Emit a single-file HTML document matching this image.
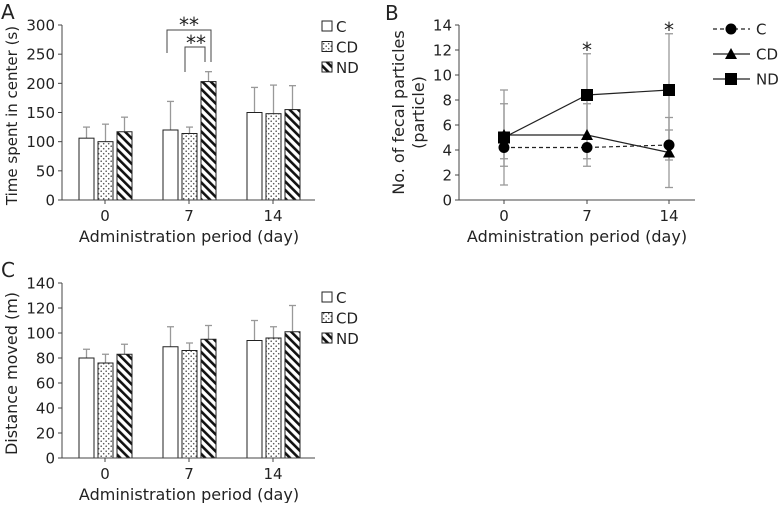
<!DOCTYPE html>
<html><head><meta charset="utf-8">
<style>
html,body{margin:0;padding:0;background:#fff;}
svg text{font-family:"DejaVu Sans","Liberation Sans",sans-serif;fill:#222;}
</style></head>
<body>
<svg id="fig" width="778" height="503" viewBox="0 0 778 503" xmlns="http://www.w3.org/2000/svg">
<defs>
<pattern id="dots" width="5" height="5" patternUnits="userSpaceOnUse"><rect width="5" height="5" fill="#fff"/><circle cx="1.2" cy="1.2" r="0.8" fill="#555"/><circle cx="3.7" cy="3.7" r="0.8" fill="#555"/></pattern>
<pattern id="hatch" width="6" height="6" patternUnits="userSpaceOnUse" patternTransform="rotate(-45)"><rect width="6" height="6" fill="#fff"/><rect x="0" y="0" width="2.6" height="6" fill="#111"/></pattern>
</defs>
<g id="pa"></g>
<g id="pb"></g>
<g id="pc"></g>
</svg>
<script>
const days = ["0","7","14"];
const groups = ["C","CD","ND"];
// Panel A: time in center (s)
const aC = [106,120,150];
const aCD = [100,114,148];
const aND = [117,203,155];
const aCerr = [19,49,43];
const aCDerr = [30,11,49];
const aNDerr = [25,17,41];
const aTicks = [0,50,100,150,200,250,300];
// Panel C: distance moved (m)
const cC = [80,89,94];
const cCD = [76,86,96];
const cND = [83,95,101];
const cCerr = [7,16,16];
const cCDerr = [7,6,9];
const cNDerr = [8,11,21];
const cTicks = [0,20,40,60,80,100,120,140];
// Panel B: fecal particles
const bC = [4.2,4.2,4.4];
const bCD = [5.2,5.2,3.8];
const bND = [5.0,8.4,8.8];
const bCerr = [0.9,0.9,1.2];
const bCDerr = [2.5,2.5,2.8];
const bNDerr = [3.8,3.3,4.5];
const bTicks = [0,2,4,6,8,10,12,14];

const NS="http://www.w3.org/2000/svg";
function mk(parent,tag,attrs,text){const e=document.createElementNS(NS,tag);for(const k in attrs)e.setAttribute(k,attrs[k]);if(text!==undefined)e.textContent=text;parent.appendChild(e);return e;}

function barPanel(g,vals,errs,ticks,ymax,y0,y1,title,letter,legendY,titleSize){
  const x0=62,x1=315;
  const ys=v=>y1-(v/ymax)*(y1-y0);
  const xc=[105,189,273];
  const fills=["#fff","url(#dots)","url(#hatch)"];
  const L=mk(g,"text",{x:1,y:y0-6,"font-size":20},letter);
  
  
  ticks.forEach(t=>{
    mk(g,"line",{x1:x0-4,x2:x0,y1:ys(t),y2:ys(t),stroke:"#444"});
    const tx=mk(g,"text",{x:x0-7,y:ys(t)+5.5,"font-size":15,"text-anchor":"end"},String(t));
    
    
  });
  days.forEach((d,i)=>{
    mk(g,"line",{x1:xc[i],x2:xc[i],y1:y1,y2:y1+4,stroke:"#444"});
    const tx=mk(g,"text",{x:xc[i],y:y1+21,"font-size":15,"text-anchor":"middle"},d);
    
    
    groups.forEach((gr,j)=>{
      const bx=xc[i]-26+j*19, v=vals[j][i], e=errs[j][i];
      mk(g,"line",{x1:bx+7.5,x2:bx+7.5,y1:ys(v),y2:ys(v+e),stroke:"#999","stroke-width":1.3});
      mk(g,"line",{x1:bx+4,x2:bx+11,y1:ys(v+e),y2:ys(v+e),stroke:"#999","stroke-width":1.3});
      const r=mk(g,"rect",{x:bx,y:ys(v),width:15,height:y1-ys(v),fill:fills[j],stroke:"#222","stroke-width":1});
      
      
    });
  });
  mk(g,"line",{x1:x0,x2:x0,y1:y0,y2:y1,stroke:"#444"});
  mk(g,"line",{x1:x0,x2:x1,y1:y1,y2:y1,stroke:"#444"});
  const yt=mk(g,"text",{x:0,y:0,"font-size":titleSize,"text-anchor":"middle",transform:`translate(17,${(y0+y1)/2+3}) rotate(-90)`},title);
  
  
  const xt=mk(g,"text",{x:189,y:y1+42,"font-size":16,"text-anchor":"middle"},"Administration period (day)");
  
  
  groups.forEach((gr,j)=>{
    const ly=legendY+j*20.5;
    const le=mk(g,"g",{});
    
    
    mk(le,"rect",{x:322,y:ly-6,width:10,height:10,fill:fills[j],stroke:"#222"});
    mk(le,"text",{x:336,y:ly+5,"font-size":15},gr);
  });
}

barPanel(document.getElementById("pa"),[aC,aCD,aND],[aCerr,aCDerr,aNDerr],aTicks,300,25,200,"Time spent in center (s)","A",27,15);
barPanel(document.getElementById("pc"),[cC,cCD,cND],[cCerr,cCDerr,cNDerr],cTicks,140,283,458,"Distance moved (m)","C",298,16);

// significance brackets on A
(function(){
  const g=document.getElementById("pa");
  const s=mk(g,"g",{});
  
  
  mk(s,"polyline",{points:"167,53 167,30 211,30 211,62",fill:"none",stroke:"#444"});
  mk(s,"polyline",{points:"185,72 185,47 205,47 205,62",fill:"none",stroke:"#444"});
  mk(s,"text",{x:189,y:32,"font-size":20,"text-anchor":"middle"},"**");
  mk(s,"text",{x:196,y:50,"font-size":20,"text-anchor":"middle"},"**");
})();

// Panel B
(function(){
  const g=document.getElementById("pb");
  const x0=459,x1=695,y0=25,y1=200;
  const ys=v=>y1-(v/14)*(y1-y0);
  const xs=[504,587,669];
  const L=mk(g,"text",{x:385,y:20,"font-size":20},"B");
  
  
  bTicks.forEach(t=>{
    mk(g,"line",{x1:x0-4,x2:x0,y1:ys(t),y2:ys(t),stroke:"#444"});
    const tx=mk(g,"text",{x:x0-7,y:ys(t)+5.5,"font-size":15,"text-anchor":"end"},String(t));
    
    
  });
  days.forEach((d,i)=>{
    mk(g,"line",{x1:xs[i],x2:xs[i],y1:y1,y2:y1+4,stroke:"#444"});
    const tx=mk(g,"text",{x:xs[i],y:y1+21,"font-size":15,"text-anchor":"middle"},d);
    
    
  });
  const series=[[bC,bCerr,"circle","4,3"],[bCD,bCDerr,"tri",""],[bND,bNDerr,"sq",""]];
  series.forEach(([v,e])=>{
    v.forEach((val,i)=>{
      mk(g,"line",{x1:xs[i],x2:xs[i],y1:ys(val-e[i]),y2:ys(val+e[i]),stroke:"#999","stroke-width":1.3});
      [val-e[i],val+e[i]].forEach(w=>mk(g,"line",{x1:xs[i]-4,x2:xs[i]+4,y1:ys(w),y2:ys(w),stroke:"#999","stroke-width":1.3}));
    });
  });
  function marker(p,type,x,y){
    if(type==="circle")return mk(p,"circle",{cx:x,cy:y,r:5.5,fill:"#000"});
    if(type==="tri")return mk(p,"polygon",{points:`${x},${y-6} ${x-6},${y+5} ${x+6},${y+5}`,fill:"#000"});
    return mk(p,"rect",{x:x-6,y:y-6,width:12,height:12,fill:"#000"});
  }
  series.forEach(([v,e,type,dash],k)=>{
    const sg=mk(g,"g",{});
    
    
    mk(sg,"polyline",{points:v.map((val,i)=>xs[i]+","+ys(val)).join(" "),fill:"none",stroke:"#222","stroke-width":1.2,"stroke-dasharray":dash});
    v.forEach((val,i)=>{
      const m=marker(sg,type,xs[i],ys(val));
      
      
    });
    const ly=29+k*25;
    const le=mk(g,"g",{});
    
    
    mk(le,"line",{x1:713,x2:750,y1:ly,y2:ly,stroke:"#222","stroke-width":1.2,"stroke-dasharray":dash});
    marker(le,type,731,ly);
    mk(le,"text",{x:756,y:ly+5.5,"font-size":15},groups[k]);
  });
  mk(g,"line",{x1:x0,x2:x0,y1:y0,y2:y1,stroke:"#444"});
  mk(g,"line",{x1:x0,x2:x1,y1:y1,y2:y1,stroke:"#444"});
  const st=mk(g,"g",{});
  
  
  mk(st,"text",{x:587,y:57,"font-size":20,"text-anchor":"middle"},"*");
  mk(st,"text",{x:669,y:37,"font-size":20,"text-anchor":"middle"},"*");
  const yt=mk(g,"text",{"font-size":16,"text-anchor":"middle",transform:`translate(0,112.5) rotate(-90)`});
  
  
  mk(yt,"tspan",{x:0,y:404},"No. of fecal particles");
  mk(yt,"tspan",{x:0,y:424},"(particle)");
  const xt=mk(g,"text",{x:577,y:242,"font-size":16,"text-anchor":"middle"},"Administration period (day)");
  
  
})();
</script>
</body></html>
